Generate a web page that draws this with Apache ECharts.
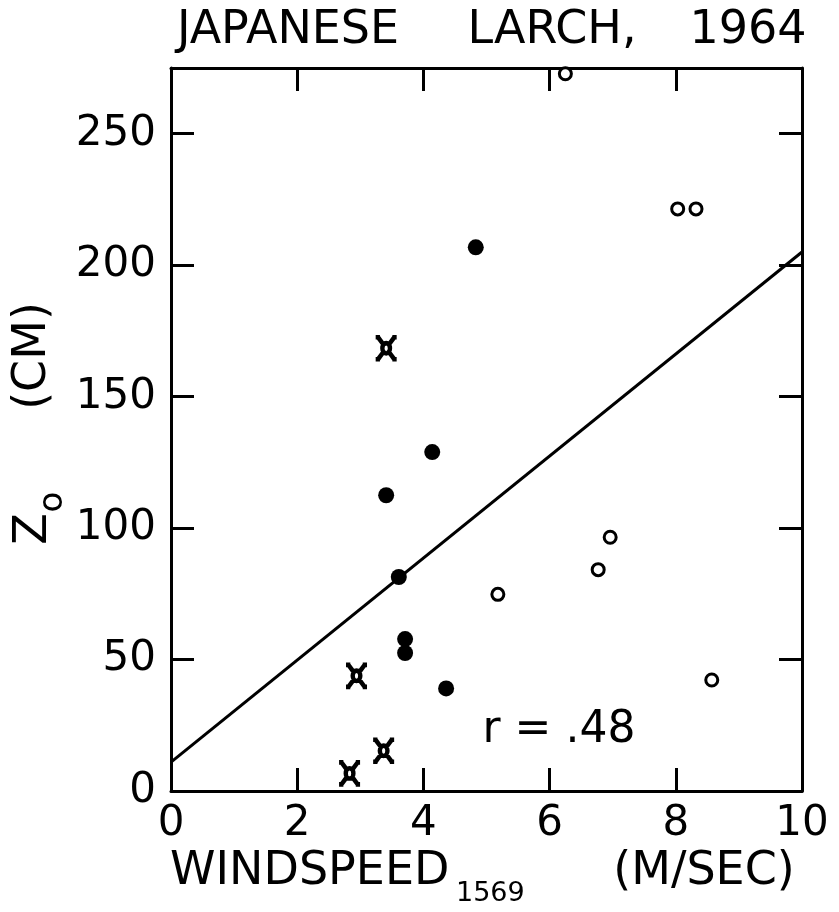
<!DOCTYPE html>
<html><head><meta charset="utf-8">
<script src="https://cdn.jsdelivr.net/npm/echarts@6/dist/echarts.min.js"></script>
<style>html,body{margin:0;padding:0;background:#fff}#c{width:839px;height:912px}</style>
</head><body><div id="c"></div>
<script>
// ---- data ----
const xTickValues = [0, 2, 4, 6, 8, 10];
const yTickValues = [0, 50, 100, 150, 200, 250];
const filledX = [4.83, 4.14, 3.41, 3.61, 3.71, 3.71, 4.36];
const filledY = [206.8, 128.9, 112.5, 81.4, 57.8, 52.5, 39.0];
const openX = [6.25, 8.03, 8.32, 6.96, 6.77, 5.18, 8.57];
const openY = [272.8, 221.4, 221.4, 96.5, 84.2, 74.8, 42.2];
const crossX = [3.41, 2.94, 3.37, 2.83];
const crossY = [168.4, 43.8, 15.3, 6.7];
const fitX = [0, 10];
const fitY = [11, 205];
const titleWords = ['JAPANESE', 'LARCH,', '1964'];
const xTitle = 'WINDSPEED';
const xTitleSub = '1569';
const xUnit = '(M/SEC)';
const yTitle = 'Z';
const yTitleSub = 'o';
const yUnit = '(CM)';
const rText = 'r = .48';

const pair = (xs, ys) => xs.map((x, i) => [x, ys[i]]);
const FONT = 'DejaVu Sans';
const INK = '#000';
const crossPath = 'path://M15 11A4 4 0 1 1 7 11A4 4 0 1 1 15 11Z' +
  'M8.2 8.2L2.5 2.5M13.8 8.2L19.5 2.5M8.2 13.8L2.5 19.5M13.8 13.8L19.5 19.5' +
  'M0 2.5L4.5 2.5M17.5 2.5L22 2.5M0 19.5L4.5 19.5M17.5 19.5L22 19.5';

const chart = echarts.init(document.getElementById('c'), null, {renderer: 'canvas'});
const axLine = {show: true, onZero: false, lineStyle: {color: INK, width: 3}};
const axTick = {show: true, inside: true, length: 23, lineStyle: {color: INK, width: 3}};
const lbl = {fontFamily: FONT, fontSize: 42, color: INK};

function txt(t, x, y, size, opts) {
  return Object.assign({
    type: 'text', x: x, y: y,
    style: Object.assign({text: t, font: size + 'px "' + FONT + '"', fill: INK,
      align: 'center', verticalAlign: 'middle'}, (opts && opts.style) || {})
  }, (opts && opts.el) || {});
}

chart.setOption({
  backgroundColor: '#fff',
  animation: false,
  grid: {left: 171, right: 37, top: 68, bottom: 121, containLabel: false, outerBoundsMode: 'none'},
  xAxis: [
    {type: 'value', min: xTickValues[0], max: xTickValues[xTickValues.length - 1], interval: 2,
     position: 'bottom', axisLine: axLine, axisTick: axTick,
     axisLabel: Object.assign({margin: 12}, lbl), splitLine: {show: false}},
    {type: 'value', min: xTickValues[0], max: xTickValues[xTickValues.length - 1], interval: 2,
     position: 'top', axisLine: axLine, axisTick: axTick,
     axisLabel: {show: false}, splitLine: {show: false}}
  ],
  yAxis: [
    {type: 'value', min: 0, max: 275, interval: 50, position: 'left',
     axisLine: axLine, axisTick: axTick,
     axisLabel: Object.assign({margin: 15, showMaxLabel: false,
       formatter: v => (yTickValues.indexOf(v) >= 0 ? String(v) : '')}, lbl),
     splitLine: {show: false}},
    {type: 'value', min: 0, max: 275, interval: 50, position: 'right',
     axisLine: axLine, axisTick: axTick, axisLabel: {show: false}, splitLine: {show: false}}
  ],
  series: [
    {type: 'line', data: pair(fitX, fitY), symbol: 'none', silent: true,
     lineStyle: {color: INK, width: 3}, z: 2},
    {type: 'scatter', data: pair(filledX, filledY), symbol: 'circle', symbolSize: 16,
     itemStyle: {color: INK, opacity: 1}, z: 3},
    {type: 'scatter', data: pair(openX, openY), symbol: 'circle', symbolSize: 12,
     itemStyle: {color: '#fff', borderColor: INK, borderWidth: 3, opacity: 1}, z: 3},
    {type: 'scatter', data: pair(crossX, crossY), symbol: crossPath, symbolSize: [21, 22],
     itemStyle: {color: 'transparent', borderColor: INK, borderWidth: 4.5, opacity: 1}, z: 3}
  ],
  graphic: [
    txt(titleWords[0], 288, 31, 46),
    txt(titleWords[1], 552, 31, 46),
    txt(titleWords[2], 748, 31, 46),
    txt(xTitle, 170, 872, 46, {style: {align: 'left'}}),
    txt(xTitleSub, 456, 894, 27, {style: {align: 'left'}}),
    txt(xUnit, 704, 872, 46),
    txt(yUnit, 33, 356, 46, {el: {rotation: Math.PI / 2}}),
    txt(yTitle, 34, 529, 46, {el: {rotation: Math.PI / 2}}),
    txt(yTitleSub, 53, 502, 34, {el: {rotation: Math.PI / 2}}),
    txt(rText, 559, 731, 44)
  ]
});
</script></body></html>
